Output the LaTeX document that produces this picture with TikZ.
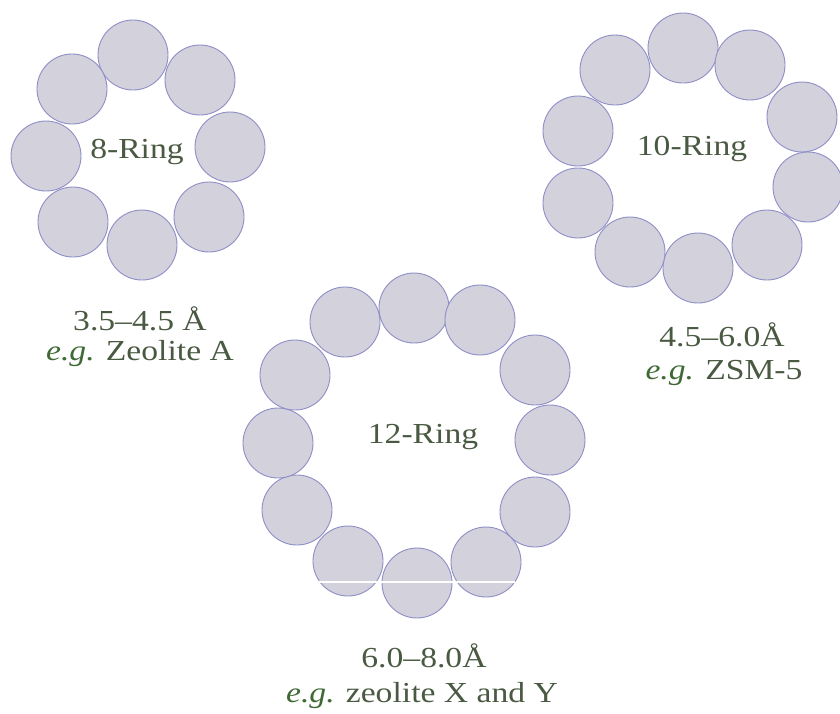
\documentclass[tikz,border=0pt]{standalone}
\usepackage{fontspec}
\setmainfont{Liberation Serif}[FakeStretch=1.16]
\usepackage{tikz}
\definecolor{ballfill}{HTML}{D3D1DB}
\definecolor{balledge}{HTML}{8E8EC8}
\definecolor{ringtext}{HTML}{4A5A42}
\definecolor{egtext}{HTML}{3F6A35}
\tikzset{
  zball/.style={fill=ballfill, draw=balledge, line width=0.9pt},
  zlabel/.style={text=ringtext, font=\fontsize{29}{33}\selectfont, anchor=base, inner sep=0pt},
  zscar/.style={draw=white, line width=1.2pt},
}
\newcommand{\eg}{\textcolor{egtext}{\textit{e.g.}}}

\begin{document}
\begin{tikzpicture}[x=1pt,y=-1pt]
\useasboundingbox (0,0) rectangle (840,713);
% 8-ring
\draw[zball] (133,55) circle (35pt);
\draw[zball] (200,80) circle (35pt);
\draw[zball] (230,147) circle (35pt);
\draw[zball] (209,217) circle (35pt);
\draw[zball] (142,245) circle (35pt);
\draw[zball] (73,222) circle (35pt);
\draw[zball] (46,156) circle (35pt);
\draw[zball] (72,89) circle (35pt);
% 10-ring
\draw[zball] (683,48) circle (35pt);
\draw[zball] (750,65) circle (35pt);
\draw[zball] (802,117) circle (35pt);
\draw[zball] (808,187) circle (35pt);
\draw[zball] (767,245) circle (35pt);
\draw[zball] (698,268) circle (35pt);
\draw[zball] (630,252) circle (35pt);
\draw[zball] (578,203) circle (35pt);
\draw[zball] (578,131) circle (35pt);
\draw[zball] (615,70) circle (35pt);
% 12-ring
\draw[zball] (414,308) circle (35pt);
\draw[zball] (480,320) circle (35pt);
\draw[zball] (535,370) circle (35pt);
\draw[zball] (550,440) circle (35pt);
\draw[zball] (535,512) circle (35pt);
\draw[zball] (486,562) circle (35pt);
\draw[zball] (417,583) circle (35pt);
\draw[zball] (348,561) circle (35pt);
\draw[zball] (297,510) circle (35pt);
\draw[zball] (278,443) circle (35pt);
\draw[zball] (295,375) circle (35pt);
\draw[zball] (345,322) circle (35pt);
\draw[zscar] (318,582) -- (515,582);
% labels
\node[zlabel] (ring8) at (137,158) {8-Ring};
\node[zlabel] (pore8) at (140,330) {3.5--4.5 Å};
\node[zlabel] (eg8) at (140,360) {\eg{} Zeolite A};
\node[zlabel] (ring10) at (692,155) {10-Ring};
\node[zlabel] (pore10) at (722,346) {4.5--6.0Å};
\node[zlabel] (eg10) at (724,379) {\eg{} ZSM-5};
\node[zlabel] (ring12) at (423,443) {12-Ring};
\node[zlabel] (pore12) at (424,667) {6.0--8.0Å};
\node[zlabel] (eg12) at (422,702) {\eg{} zeolite X and Y};
\end{tikzpicture}
\end{document}
